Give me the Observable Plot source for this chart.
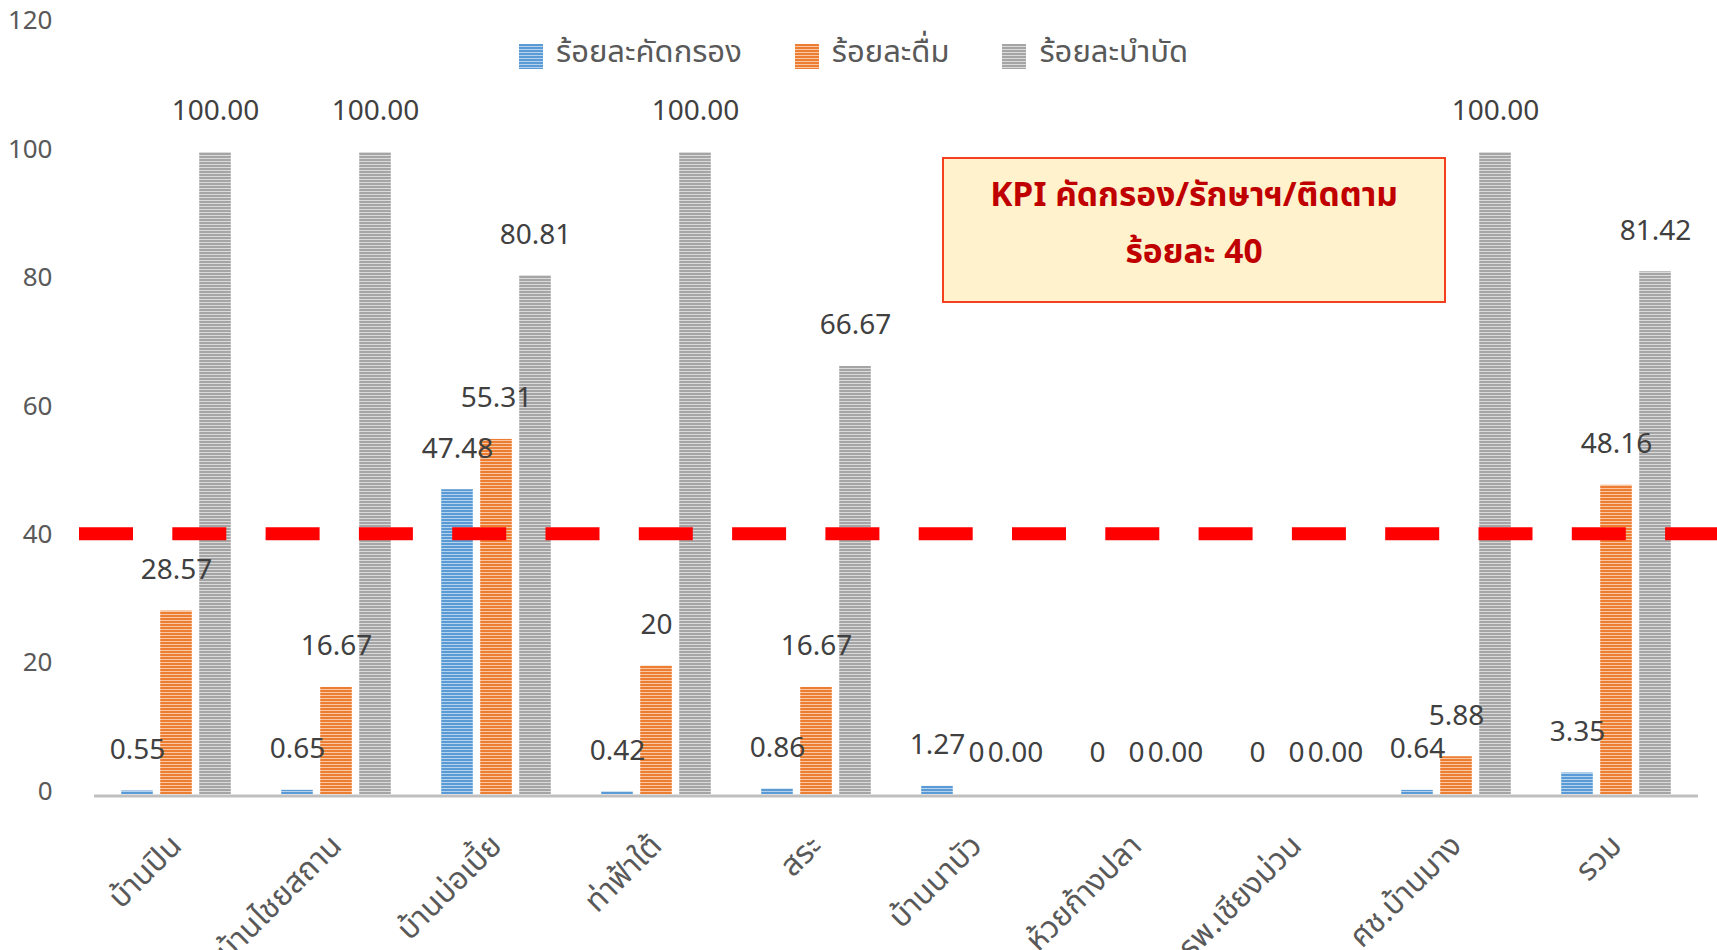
<!DOCTYPE html>
<html>
<head>
<meta charset="utf-8">
<script src="https://cdn.jsdelivr.net/npm/d3@7"></script>
<script src="https://cdn.jsdelivr.net/npm/@observablehq/plot@0.6"></script>
<style>
  html, body { margin: 0; padding: 0; background: #fff; }
  #wrap { position: relative; width: 1717px; height: 950px; overflow: hidden;
          font-family: "Noto Sans Thai", "Noto Sans", "DejaVu Sans", sans-serif; }
  #legend { position: absolute; left: 519px; top: 35px; height: 36px; display: flex; align-items: center;
            font-size: 31px; line-height: 36px; color: #595959; white-space: nowrap; }
  .item { display: flex; align-items: center; margin-right: 53px; }
  .sw { width: 24px; height: 25px; margin-right: 13px; margin-top: 6px; }
  #kpi { position: absolute; left: 942px; top: 157px; width: 504px; height: 146px;
         background: #FFF2CC; border: 2px solid #F4401E; box-sizing: border-box; padding-bottom: 12px;
         color: #C00000; font-weight: bold; font-size: 33.5px; text-align: center;
         display: flex; flex-direction: column; justify-content: center; line-height: 57px; }
</style>
</head>
<body>
<div id="wrap">
  <div id="chart"></div>
  <div id="legend"></div>
  <div id="kpi"></div>
</div>
<script>
const categories = ["บ้านปิน", "บ้านไชยสถาน", "บ้านบ่อเบี้ย", "ท่าฟ้าใต้", "สระ", "บ้านนาบัว", "ห้วยก้างปลา", "รพ.เชียงม่วน", "ศช.บ้านมาง", "รวม"];
const seriesNames = ["ร้อยละคัดกรอง", "ร้อยละดื่ม", "ร้อยละบำบัด"];
const screening = [0.55, 0.65, 47.48, 0.42, 0.86, 1.27, 0, 0, 0.64, 3.35];
const drinking = [28.57, 16.67, 55.31, 20, 16.67, 0, 0, 0, 5.88, 48.16];
const treatment = [100, 100, 80.81, 100, 66.67, 0, 0, 0, 100, 81.42];
const yTicks = [0, 20, 40, 60, 80, 100, 120];
const kpiValue = 40;
const kpiLines = ["KPI คัดกรอง/รักษาฯ/ติดตาม", "ร้อยละ 40"];

const colors = {
  blue: ["#5B9BD5", "#B4D2EE"],
  orange: ["#ED7D31", "#F8C7A5"],
  gray: ["#A5A5A5", "#DADADA"]
};
const seriesKeys = ["blue", "orange", "gray"];
const seriesValues = [screening, drinking, treatment];
const fmt = [v => String(v), v => String(v), v => v.toFixed(2)];
const offsets = [-39, 0, 39];

const rows = seriesValues.map(vals => categories.map((c, i) => ({cat: c, value: vals[i]})));

const font = '"Noto Sans Thai", "Noto Sans", "DejaVu Sans", sans-serif';
const inset = (160.4 - 32) / 2;

const marks = [];
rows.forEach((data, k) => {
  marks.push(Plot.barY(data, {x: "cat", y: "value", dx: offsets[k], insetLeft: inset, insetRight: inset,
    fill: `url(#pat-${seriesKeys[k]})`}));
});
marks.push(Plot.ruleY([0], {insetLeft: 15, insetRight: 19, dy: 1.5, stroke: "#BFBFBF", strokeWidth: 3}));
marks.push(Plot.ruleY([kpiValue], {stroke: "#FF0000", strokeWidth: 13, dy: -4, strokeDasharray: "54 39.3"}));
rows.forEach((data, k) => {
  marks.push(Plot.text(data, {x: "cat", y: "value", dx: offsets[k], dy: -41, lineAnchor: "middle",
    text: d => fmt[k](d.value), fill: "#404040", fontSize: 28}));
});
marks.push(Plot.axisY({ticks: yTicks, tickSize: 0, tickPadding: 27, dy: -3, label: null, fontSize: 26, fill: "#595959"}));
marks.push(Plot.axisX({tickSize: 0, tickPadding: 46, tickRotate: -45, label: null, fontSize: 31, fill: "#595959"}));

const plot = Plot.plot({
  width: 1717,
  height: 950,
  marginLeft: 79,
  marginRight: 0,
  marginTop: 23.6,
  marginBottom: 156,
  style: {fontFamily: font, background: "#fff"},
  x: {type: "band", domain: categories, range: [94, 1698], padding: 0, axis: null},
  y: {domain: [0, 120], axis: null},
  marks
});

// stripe patterns
const svg = d3.select(plot);
const defs = svg.insert("defs", ":first-child");
seriesKeys.forEach(k => {
  const p = defs.append("pattern").attr("id", `pat-${k}`).attr("patternUnits", "userSpaceOnUse")
    .attr("width", 8).attr("height", 3);
  p.append("rect").attr("width", 8).attr("height", 3).attr("fill", colors[k][1]);
  p.append("rect").attr("width", 8).attr("height", 2).attr("fill", colors[k][0]);
});
document.getElementById("chart").appendChild(plot);

// legend
const legend = d3.select("#legend");
seriesNames.forEach((name, k) => {
  const it = legend.append("div").attr("class", "item");
  it.append("div").attr("class", "sw")
    .style("background", `repeating-linear-gradient(to bottom, ${colors[seriesKeys[k]][0]} 0 2px, ${colors[seriesKeys[k]][1]} 2px 3px)`);
  it.append("span").text(name);
});

// KPI box
const kpi = d3.select("#kpi");
kpiLines.forEach(t => kpi.append("div").text(t));
</script>
</body>
</html>
